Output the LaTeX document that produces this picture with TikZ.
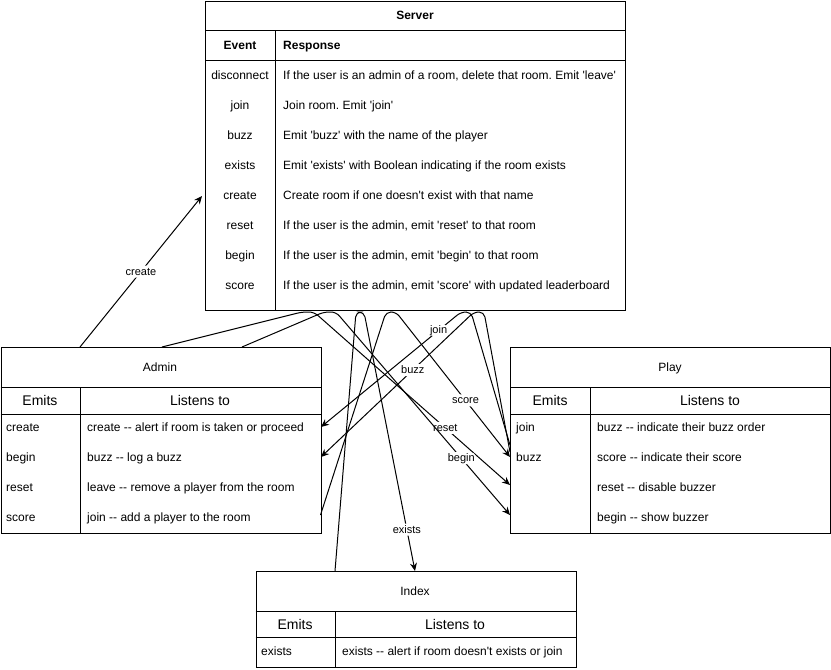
\documentclass[tikz,border=0pt]{standalone}
\usepackage{fontspec}
\setmainfont{Liberation Sans}
\usetikzlibrary{arrows.meta}
\newcommand\sq{\textquotesingle}
\begin{document}
\frenchspacing
\begin{tikzpicture}[x=1pt,y=-1pt,
  box/.style={draw,line width=1pt,anchor=north west,inner sep=0pt,rectangle},
  hdr/.style={font=\fontsize{12}{14}\selectfont,anchor=base,inner sep=0pt,yshift=-4.3pt},
  bhdr/.style={font=\fontsize{12}{14}\selectfont\bfseries,anchor=base,inner sep=0pt,yshift=-4.3pt},
  bhdrl/.style={bhdr,anchor=base west},
  big/.style={font=\fontsize{14}{16}\selectfont,anchor=base,inner sep=0pt,yshift=-5pt},
  cell/.style={font=\fontsize{12}{14}\selectfont,anchor=base west,inner sep=0pt,yshift=-4.3pt},
  ccell/.style={font=\fontsize{12}{14}\selectfont,anchor=base,inner sep=0pt,yshift=-4.3pt},
  sep/.style={line width=1pt},
  conn/.style={line width=1pt,rounded corners=5pt},
  arr/.style={-{Stealth[length=8pt,width=7pt]}},
  lbl/.style={font=\fontsize{11}{13}\selectfont,fill=white,inner sep=1pt,text height=8.5pt,text depth=1.5pt}
]
\useasboundingbox (0,0) rectangle (831,670);

% ---------- Server ----------
\node[box,minimum width=420pt,minimum height=309.5pt] (server) at (205,0.5) {};
\draw[sep] (205,30) -- (625,30);
\draw[sep] (205,60) -- (625,60);
\draw[sep] (275,30) -- (275,310);
\node[bhdr] (stitle) at (415,15) {Server};
\node[bhdr] (sev) at (240,45) {Event};
\node[bhdrl] (sresp) at (283,45) {Response};
\node[ccell] (e1) at (240,75) {disconnect};
\node[cell] (r1) at (283,75) {If the user is an admin of a room, delete that room. Emit \sq leave\sq};
\node[ccell] (e2) at (240,105) {join};
\node[cell] (r2) at (283,105) {Join room. Emit \sq join\sq};
\node[ccell] (e3) at (240,135) {buzz};
\node[cell] (r3) at (283,135) {Emit \sq buzz\sq\ with the name of the player};
\node[ccell] (e4) at (240,165) {exists};
\node[cell] (r4) at (283,165) {Emit \sq exists\sq\ with Boolean indicating if the room exists};
\node[ccell] (e5) at (240,195) {create};
\node[cell] (r5) at (283,195) {Create room if one doesn\sq t exist with that name};
\node[ccell] (e6) at (240,225) {reset};
\node[cell] (r6) at (283,225) {If the user is the admin, emit \sq reset\sq\ to that room};
\node[ccell] (e7) at (240,255) {begin};
\node[cell] (r7) at (283,255) {If the user is the admin, emit \sq begin\sq\ to that room};
\node[ccell] (e8) at (240,285) {score};
\node[cell] (r8) at (283,285) {If the user is the admin, emit \sq score\sq\ with updated leaderboard};

% ---------- Admin ----------
\node[box,minimum width=320pt,minimum height=186pt] (admin) at (0.5,347) {};
\draw[sep] (0.5,387) -- (320.5,387);
\draw[sep] (0.5,414) -- (320.5,414);
\draw[sep] (80,387) -- (80,533);
\node[hdr] (atitle) at (160,367) {Admin};
\node[big] (aem) at (40,400.5) {Emits};
\node[big] (ali) at (200,400.5) {Listens to};
\node[cell] (ae1) at (6,427) {create};
\node[cell] (ae2) at (6,457) {begin};
\node[cell] (ae3) at (6,487) {reset};
\node[cell] (ae4) at (6,517) {score};
\node[cell] (al1) at (87,427) {create -{}- alert if room is taken or proceed};
\node[cell] (al2) at (87,457) {buzz -{}- log a buzz};
\node[cell] (al3) at (87,487) {leave -{}- remove a player from the room};
\node[cell] (al4) at (87,517) {join -{}- add a player to the room};

% ---------- Play ----------
\node[box,minimum width=320pt,minimum height=186pt] (play) at (510,347) {};
\draw[sep] (510,387) -- (830,387);
\draw[sep] (510,414) -- (830,414);
\draw[sep] (590,387) -- (590,533);
\node[hdr] (ptitle) at (670,367) {Play};
\node[big] (pem) at (550,400.5) {Emits};
\node[big] (pli) at (710,400.5) {Listens to};
\node[cell] (pe1) at (516,427) {join};
\node[cell] (pe2) at (516,457) {buzz};
\node[cell] (pl1) at (597,427) {buzz -{}- indicate their buzz order};
\node[cell] (pl2) at (597,457) {score -{}- indicate their score};
\node[cell] (pl3) at (597,487) {reset -{}- disable buzzer};
\node[cell] (pl4) at (597,517) {begin -{}- show buzzer};

% ---------- Index ----------
\node[box,minimum width=320pt,minimum height=96pt] (index) at (255.5,571) {};
\draw[sep] (255.5,611) -- (575.5,611);
\draw[sep] (255.5,637) -- (575.5,637);
\draw[sep] (335,611) -- (335,667);
\node[hdr] (ititle) at (415,591) {Index};
\node[big] (iem) at (295,624) {Emits};
\node[big] (ili) at (455,624) {Listens to};
\node[cell] (ie1) at (261,651) {exists};
\node[cell] (il1) at (342,651) {exists -{}- alert if room doesn\sq t exists or join};

% ---------- connector end points ----------
\coordinate (cA) at (80,347);
\coordinate (cS) at (202,196);
\coordinate (rA) at (162,347);
\coordinate (rP) at (510,485);
\coordinate (bA) at (242,347);
\coordinate (bP) at (510,515);
\coordinate (sA) at (320.5,515);
\coordinate (sP) at (510,457);
\coordinate (jP) at (510,445);
\coordinate (jA) at (321,427);
\coordinate (zP) at (510,452);
\coordinate (zA) at (321,457);
\coordinate (xI) at (335,571);
\coordinate (xJ) at (415,571);

% ---------- connectors ----------
\draw[conn,arr] (cA) -- node[lbl] (lcreate) {create} (cS);
\draw[conn,arr] (rA) -- (302,312) -- (314,312) -- node[lbl,pos=0.67] (lreset) {reset} (rP);
\draw[conn,arr] (bA) -- (324,312) -- (336,312) -- node[lbl,pos=0.72] (lbegin) {begin} (bP);
\draw[conn,arr] (sA) -- (386,312) -- (396,312) -- node[lbl,pos=0.61] (lscore) {score} (sP);
\draw[conn,arr] (jP) -- (471,312) -- (461,312) -- node[lbl,pos=0.16] (ljoin) {join} (jA);
\draw[conn,arr] (zP) -- (484,312) -- (474,312) -- node[lbl,pos=0.4] (lbuzz) {buzz} (zA);
\draw[conn,arr] (xI) -- (356,312) -- (364,312) -- node[lbl,pos=0.84] (lexists) {exists} (xJ);
\end{tikzpicture}
\end{document}
